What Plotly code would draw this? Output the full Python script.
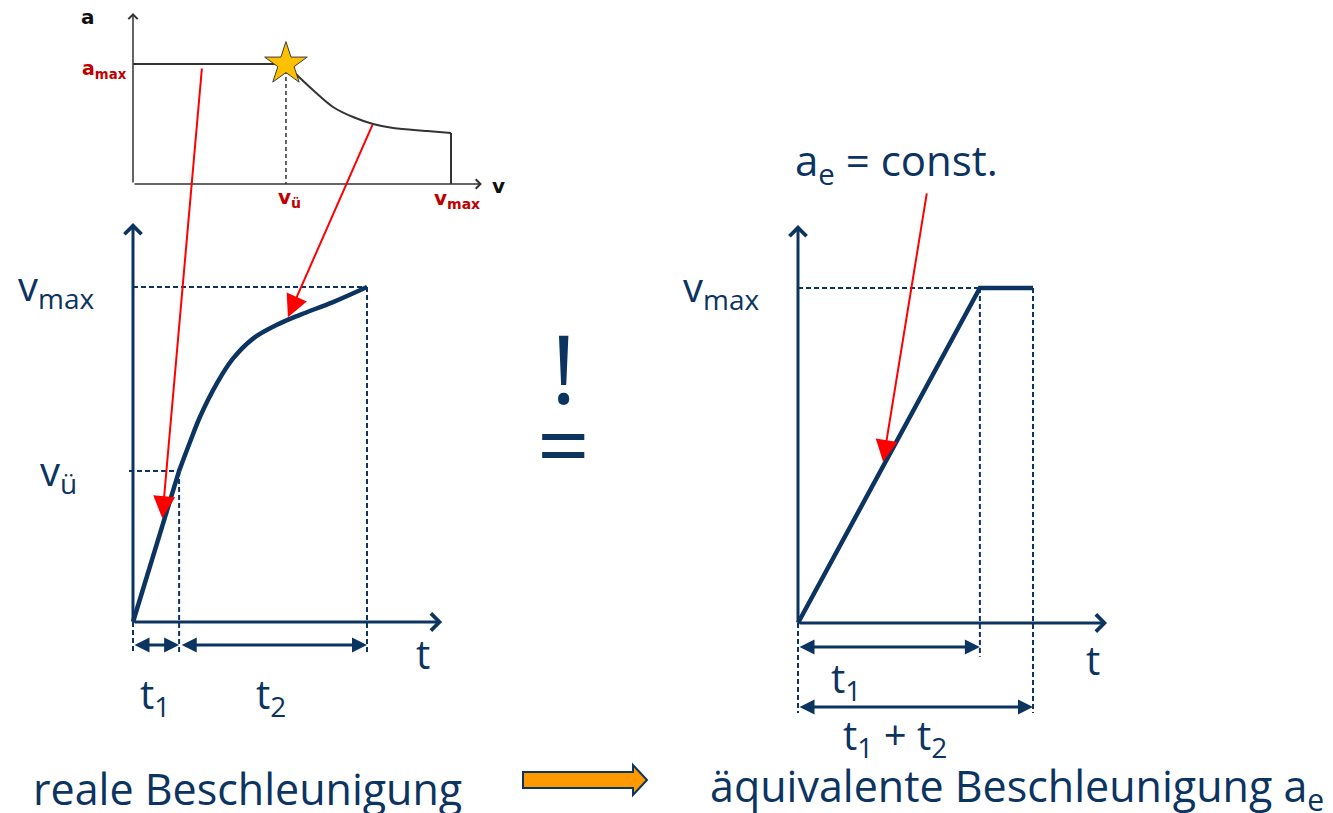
import plotly.graph_objects as go

# ---------------- data (diagram units) ----------------
# top diagram: a(v) characteristic, v normalised to v_max, a normalised to a_max
AV_V_UE = 0.481
AV_V_MAX = 1.0
AV_A_MAX = 1.0
AV_CURVE_V = [0.481, 0.509, 0.566, 0.629, 0.692, 0.755, 0.818, 0.925, 1.0]
AV_CURVE_A = [1.0, 0.925, 0.783, 0.642, 0.558, 0.500, 0.467, 0.442, 0.425]

# left diagram: real v(t), t normalised to t1+t2, v normalised to v_max
REAL_T1 = 0.197
REAL_V_UE = 0.451
REAL_T_END = 1.0
REAL_CURVE_T = [0.197, 0.244, 0.286, 0.359, 0.427, 0.513, 0.615, 0.714, 0.855, 1.0]
REAL_CURVE_V = [0.451, 0.538, 0.612, 0.713, 0.786, 0.846, 0.887, 0.917, 0.955, 1.0]

# right diagram: equivalent constant acceleration
EQ_T = [0.0, 0.774, 1.0]
EQ_V = [0.0, 1.0, 1.0]
EQ_T1 = 0.774
EQ_T_END = 1.0

# ---------------- layout constants ----------------
W, H = 1333, 813
NAVY = '#0c3461'
RED = '#ff0000'
DRED = '#c00000'
GRAY = '#333333'
FONT = 'Open Sans'

# frames: origin pixel x, origin pixel y, px per unit x, px per unit y
FR = {1: (133, 184, 318, 120), 2: (133, 622, 234, 335), 3: (798, 623, 235, 335)}


def xr(k):
    ox, oy, sx, sy = FR[k]
    return [-ox / sx, (W - ox) / sx]


def yr(k):
    ox, oy, sx, sy = FR[k]
    return [-(H - oy) / sy, oy / sy]


def conv(p, a, b):
    """convert a point from frame a coordinates to frame b coordinates"""
    oxa, oya, sxa, sya = FR[a]
    oxb, oyb, sxb, syb = FR[b]
    px = oxa + p[0] * sxa
    py = oya - p[1] * sya
    return ((px - oxb) / sxb, (oyb - py) / syb)


fig = go.Figure()


def line(k, xs, ys, color, width, dash=None, shape='linear'):
    fig.add_trace(go.Scatter(
        x=xs, y=ys, mode='lines', xaxis='x' if k == 1 else f'x{k}', yaxis='y' if k == 1 else f'y{k}',
        line=dict(color=color, width=width, dash=dash, shape=shape), hoverinfo='skip', showlegend=False))


ann = []


def arrow(k, tail, head, color, width, head_style, size=1.0, both=False):
    xa = 'x' if k == 1 else f'x{k}'
    ya = 'y' if k == 1 else f'y{k}'
    ann.append(dict(x=head[0], y=head[1], ax=tail[0], ay=tail[1], xref=xa, yref=ya, axref=xa, ayref=ya,
                    text='', showarrow=True, arrowhead=head_style, startarrowhead=head_style,
                    arrowwidth=width, arrowsize=size, startarrowsize=size, arrowcolor=color,
                    arrowside='end+start' if both else 'end'))


def label(k, x, y, text, size, color=NAVY, bold=False, family=FONT, xanchor='center'):
    xa = 'x' if k == 1 else f'x{k}'
    ya = 'y' if k == 1 else f'y{k}'
    ann.append(dict(x=x, y=y, xref=xa, yref=ya, text=f'<b>{text}</b>' if bold else text, showarrow=False,
                    xanchor=xanchor, yanchor='middle', font=dict(family=family, size=size, color=color)))


DASH = '5px,3px'

# ---------- diagram 1: a(v) ----------
arrow(1, (0, 0), (0, 1.425), GRAY, 1.5, 4, 1.2)
arrow(1, (0, 0), (1.097, 0), GRAY, 1.5, 4, 1.2)
line(1, [0, AV_V_UE], [AV_A_MAX, AV_A_MAX], GRAY, 2)
line(1, AV_CURVE_V, AV_CURVE_A, GRAY, 2, shape='spline')
line(1, [AV_V_MAX, AV_V_MAX], [AV_CURVE_A[-1], 0], GRAY, 2)
line(1, [AV_V_UE, AV_V_UE], [AV_A_MAX - 0.05, 0], GRAY, 1.5, dash='4px,3px')
fig.add_trace(go.Scatter(x=[AV_V_UE], y=[AV_A_MAX], mode='markers', xaxis='x', yaxis='y',
                         marker=dict(symbol='star', size=32, color='#ffc000', line=dict(color='#3a3a3a', width=1)),
                         hoverinfo='skip', showlegend=False))
label(1, -0.1415, 1.392, 'a', 20, color='#111111', bold=True, family='DejaVu Sans')
label(1, -0.012, 0.955, 'a<sub>max</sub>', 19, color=DRED, bold=True, family='DejaVu Sans', xanchor='right')
label(1, AV_V_UE + 0.01, -0.115, 'v<sub>ü</sub>', 20, color=DRED, bold=True, family='DejaVu Sans')
label(1, AV_V_MAX + 0.02, -0.125, 'v<sub>max</sub>', 20, color=DRED, bold=True, family='DejaVu Sans')
label(1, 1.148, -0.02, 'v', 20, color='#111111', bold=True, family='DejaVu Sans')

# ---------- diagram 2: real acceleration ----------
arrow(2, (0, 0), (0, 1.191), NAVY, 3, 4, 1.1)
arrow(2, (0, 0), (1.321, 0), NAVY, 3, 4, 1.1)
line(2, [0, REAL_T_END], [1, 1], NAVY, 2, dash=DASH)
line(2, [REAL_T_END, REAL_T_END], [1, -0.093], NAVY, 2, dash=DASH)
line(2, [-0.017, REAL_T1], [REAL_V_UE, REAL_V_UE], NAVY, 2, dash=DASH)
line(2, [REAL_T1, REAL_T1], [REAL_V_UE, -0.093], NAVY, 2, dash=DASH)
line(2, [0, 0], [0, -0.093], NAVY, 2, dash=DASH)
line(2, [0, REAL_T1], [0, REAL_V_UE], NAVY, 4.5)
line(2, REAL_CURVE_T, REAL_CURVE_V, NAVY, 4.5, shape='spline')
arrow(2, (0, -0.069), (REAL_T1, -0.069), NAVY, 3, 2, 1.0, both=True)
arrow(2, (REAL_T1 + 0.005, -0.069), (REAL_T_END, -0.069), NAVY, 3, 2, 1.0, both=True)
label(2, -0.329, 1.0, 'v<sub>max</sub>', 40)
label(2, -0.318, 0.445, 'v<sub>ü</sub>', 40)
label(2, 1.24, -0.095, 't', 40)
label(2, 0.094, -0.22, 't<sub>1</sub>', 40)
label(2, 0.59, -0.22, 't<sub>2</sub>', 40)

# ---------- diagram 3: equivalent acceleration ----------
arrow(3, (0, 0), (0, 1.188), NAVY, 3, 4, 1.1)
arrow(3, (0, 0), (1.315, 0), NAVY, 3, 4, 1.1)
line(3, [0, EQ_T1], [1, 1], NAVY, 2, dash=DASH)
line(3, [EQ_T1, EQ_T1], [1, -0.101], NAVY, 2, dash=DASH)
line(3, [EQ_T_END, EQ_T_END], [1, -0.269], NAVY, 2, dash=DASH)
line(3, [0, 0], [0, -0.269], NAVY, 2, dash=DASH)
line(3, EQ_T, EQ_V, NAVY, 4.5)
arrow(3, (0, -0.072), (EQ_T1, -0.072), NAVY, 3, 2, 1.0, both=True)
arrow(3, (0, -0.251), (EQ_T_END, -0.251), NAVY, 3, 2, 1.0, both=True)
label(3, -0.328, 1.0, 'v<sub>max</sub>', 40)
label(3, 1.255, -0.11, 't', 40)
label(3, 0.206, -0.17, 't<sub>1</sub>', 40)
label(3, 0.413, -0.34, 't<sub>1</sub> + t<sub>2</sub>', 40)
label(3, 0.421, 1.375, 'a<sub>e</sub> = const.', 42)

# ---------- red arrows ----------
arrow(2, conv((0.217, 0.975), 1, 2), (0.125, 0.31), RED, 2, 2, 2.2)
arrow(2, conv((0.755, 0.505), 1, 2), (0.662, 0.91), RED, 2, 2, 2.2)
arrow(3, (0.549, 1.287), (0.362, 0.481), RED, 2, 2, 2.2)

# ---------- page-level elements (pixel frame x4/y4) ----------
for txt, x, y, size in [('!', 563, 366, 96), ('=', 563, 442, 92),
                        ('reale Beschleunigung', 247, 788, 43),
                        ('äquivalente Beschleunigung a<sub>e</sub>', 1017, 788, 43)]:
    ann.append(dict(x=x, y=y, xref='x4', yref='y4', text=txt, showarrow=False, xanchor='center',
                    yanchor='middle', font=dict(family=FONT, size=size, color=NAVY)))

shapes = [dict(type='path', xref='x4', yref='y4',
               path='M523,772 L633,772 L633,765 L647,780 L633,795 L633,788 L523,788 Z',
               fillcolor='#ff9900', line=dict(color=NAVY, width=2))]

# ---------------- axes ----------------
ax_common = dict(visible=False, showgrid=False, zeroline=False, fixedrange=True, domain=[0, 1])
layout = dict(width=W, height=H, margin=dict(l=0, r=0, t=0, b=0), plot_bgcolor='white',
              paper_bgcolor='white', showlegend=False, annotations=ann, shapes=shapes)
layout['xaxis'] = dict(range=xr(1), **ax_common)
layout['yaxis'] = dict(range=yr(1), **ax_common)
for k in (2, 3):
    layout[f'xaxis{k}'] = dict(range=xr(k), overlaying='x', **ax_common)
    layout[f'yaxis{k}'] = dict(range=yr(k), overlaying='y', **ax_common)
layout['xaxis4'] = dict(range=[0, W], overlaying='x', **ax_common)
layout['yaxis4'] = dict(range=[H, 0], overlaying='y', **ax_common)
fig.update_layout(**layout)

fig.write_html('out.html', config={'displayModeBar': False},
               post_script="document.body.style.margin='0';document.body.style.overflow='hidden';")
